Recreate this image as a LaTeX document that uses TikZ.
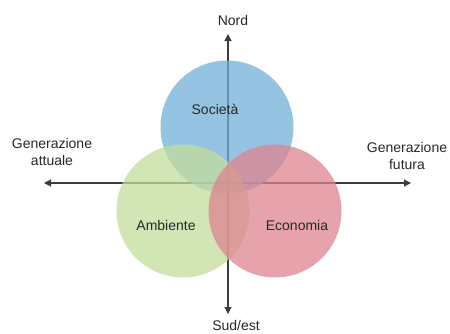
\documentclass[tikz,border=0pt]{standalone}
\usepackage{fontspec}
\setmainfont{Liberation Sans}
\usetikzlibrary{arrows.meta}
\definecolor{cblue}{RGB}{112,176,216}
\definecolor{cgreen}{RGB}{195,220,156}
\definecolor{cred}{RGB}{222,132,143}
\definecolor{axisgray}{RGB}{60,60,60}
\definecolor{txt}{RGB}{40,40,40}
\begin{document}
\begin{tikzpicture}[x=1pt,y=-1pt,
  axis/.style={draw=axisgray,line width=1.2pt,-{Triangle[length=7pt,width=7pt]}},
  circ/.style={circle,minimum size=133pt,inner sep=0pt,fill opacity=0.75,text opacity=1},
  lbl/.style={text=txt,font=\fontsize{14}{17.5}\selectfont,align=center,inner sep=0pt}]
\useasboundingbox (0,0) rectangle (450,333);
\coordinate (o) at (228,183);
\coordinate (top) at (228,34);
\coordinate (bot) at (228,314);
\coordinate (lft) at (44,183);
\coordinate (rgt) at (411,183);
\draw[axis] (o) -- (top);
\draw[axis] (o) -- (bot);
\draw[axis] (o) -- (lft);
\draw[axis] (o) -- (rgt);
\node[circ,fill=cblue] (soc) at (227,127) {};
\node[circ,fill=cgreen] (amb) at (183,211) {};
\node[circ,fill=cred] (eco) at (275,211) {};
\node[lbl] (tsoc) at (215,109) {Società};
\node[lbl] (tamb) at (166,225) {Ambiente};
\node[lbl] (teco) at (297,225) {Economia};
\node[lbl] (nord) at (233,20) {Nord};
\node[lbl] (sud) at (236,325) {Sud/est};
\node[lbl] (att) at (52,152) {Generazione\\attuale};
\node[lbl] (fut) at (407,156) {Generazione\\futura};
\end{tikzpicture}
\end{document}
